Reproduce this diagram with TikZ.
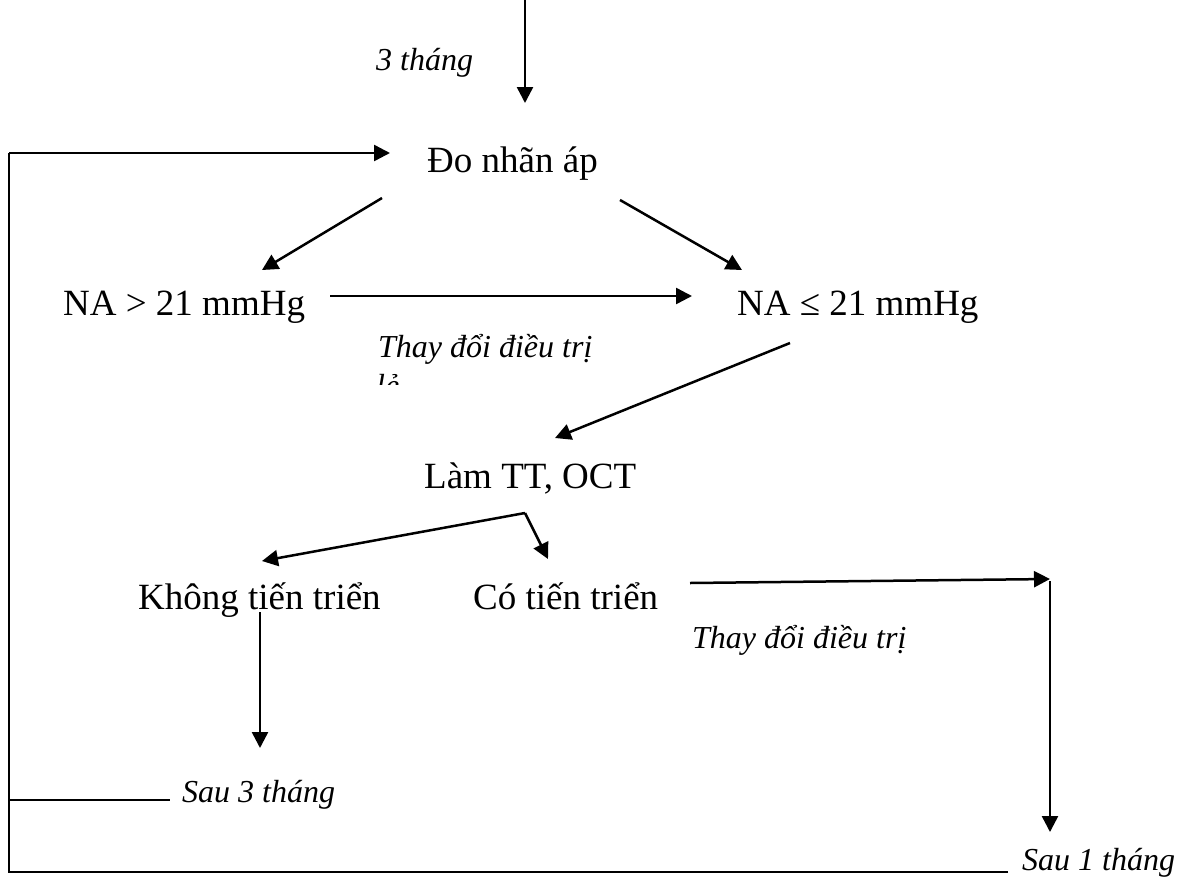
\documentclass[tikz,border=0pt]{standalone}
\usepackage{fontspec}
\setmainfont{Liberation Serif}
\usetikzlibrary{arrows.meta}
\begin{document}
\begin{tikzpicture}[x=1pt,y=-1pt,
  line/.style={line width=2.5pt},
  arr/.style={line width=2.5pt,-{Triangle[length=16pt,width=16pt]}},
  main/.style={inner sep=0pt,anchor=base west,font=\fontsize{37}{38}\selectfont},
  lab/.style={inner sep=0pt,anchor=base west,font=\fontsize{32}{33}\selectfont\itshape}]
\useasboundingbox (0,0) rectangle (1181,879);
\coordinate (top) at (525,0);
\node[main] (do) at (427,172) {Đo nhãn áp};
\node[main] (nag) at (63,315) {NA > 21 mmHg};
\node[main] (nal) at (737,315) {NA ≤ 21 mmHg};
\node[main] (lam) at (424,488) {Làm TT, OCT};
\node[main] (ktt) at (138,609) {Không tiến triển};
\node[main] (ctt) at (473,609) {Có tiến triển};
\node[lab] (l3t) at (376,70) {3 tháng};
\node[lab] (ltd1) at (378,357) {Thay đổi điều trị};
\begin{scope}
  \clip (360,360) rectangle (460,384);
  \node[lab] (ltd1b) at (376,396) {lẻ};
\end{scope}
\node[lab] (ltd2) at (692,648) {Thay đổi điều trị};
\node[lab] (ls3) at (182,802) {Sau 3 tháng};
\node[lab] (ls1) at (1022,870) {Sau 1 tháng};
\coordinate (tip0) at (525,103);
\draw[arr] (top) -- (tip0);
% loop
\coordinate (l1) at (9,153);
\coordinate (l1e) at (390,153);
\coordinate (l2) at (9,872);
\coordinate (l2e) at (1008,872);
\coordinate (l3) at (9,800);
\coordinate (l3e) at (170,800);
\draw[line] (l2e) -- (l2) -- (l1);
\draw[arr] (l1) -- (l1e);
\draw[line] (l3) -- (l3e);
% branches
\coordinate (a1s) at (382,198); \coordinate (a1e) at (262,270);
\coordinate (a2s) at (620,200); \coordinate (a2e) at (742,270);
\draw[arr] (a1s) -- (a1e);
\draw[arr] (a2s) -- (a2e);
\coordinate (a3s) at (330,296); \coordinate (a3e) at (692,296);
\draw[arr] (a3s) -- (a3e);
\coordinate (a4s) at (790,343); \coordinate (a4e) at (555,438);
\draw[arr] (a4s) -- (a4e);
\coordinate (c) at (525,513);
\coordinate (a5e) at (262,561);
\coordinate (a6e) at (548,559);
\draw[arr] (c) -- (a5e);
\draw[arr] (c) -- (a6e);
\coordinate (a7s) at (260,612); \coordinate (a7e) at (260,748);
\draw[arr] (a7s) -- (a7e);
\coordinate (a8s) at (690,583); \coordinate (a8e) at (1050,579);
\draw[arr] (a8s) -- (a8e);
\coordinate (a9s) at (1050,581); \coordinate (a9e) at (1050,832);
\draw[arr] (a9s) -- (a9e);
\end{tikzpicture}
\end{document}
